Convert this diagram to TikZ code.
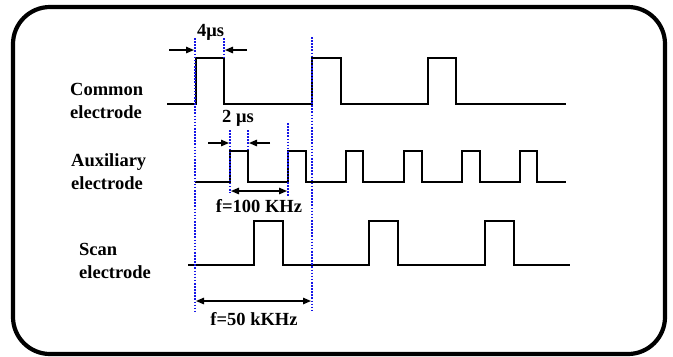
\documentclass[tikz,border=0pt]{standalone}
\usepackage{fontspec}
\setmainfont{Liberation Serif}
\usetikzlibrary{arrows.meta}
\definecolor{guideblue}{RGB}{20,20,230}
\begin{document}
\begin{tikzpicture}[x=1bp,y=-1bp,
  wave/.style={line width=2.2bp, line join=miter},
  guide/.style={guideblue, line width=2bp, dash pattern=on 1.6bp off 1.5bp},
  dimarrow/.style={line width=1.4bp, -{Triangle[length=8bp,width=6.5bp]}},
  dimboth/.style={line width=1.4bp, {Triangle[length=8bp,width=6.5bp]}-{Triangle[length=8bp,width=6.5bp]}},
  lbl/.style={font=\fontsize{18.5bp}{22bp}\selectfont\bfseries, inner sep=0pt, anchor=base west},
  dimlbl/.style={font=\fontsize{18.5bp}{22bp}\selectfont\bfseries, inner sep=0pt, anchor=base},
  frame/.style={line width=4.2bp, rounded corners=37bp}]

\useasboundingbox (0,0) rectangle (673,356);
\draw[frame] (13,7) rectangle (665,354);

% signal labels
\node[lbl] (c1) at (70,95) {Common};
\node[lbl] (c2) at (70,118) {electrode};
\node[lbl] (a1) at (71,166) {Auxiliary};
\node[lbl] (a2) at (71,189) {electrode};
\node[lbl] (s1) at (79,255) {Scan};
\node[lbl] (s2) at (79,278) {electrode};

% waveforms
\draw[wave] (167,104) -- (196,104) -- (196,58) -- (224,58) -- (224,104)
  -- (312,104) -- (312,58) -- (341,58) -- (341,104)
  -- (428,104) -- (428,58) -- (456,58) -- (456,104) -- (566,104);
\draw[wave] (195,182) -- (230,182) -- (230,151) -- (248,151) -- (248,182)
  -- (288,182) -- (288,151) -- (306,151) -- (306,182)
  -- (346,182) -- (346,151) -- (363,151) -- (363,182)
  -- (404,182) -- (404,151) -- (422,151) -- (422,182)
  -- (462,182) -- (462,151) -- (480,151) -- (480,182)
  -- (520,182) -- (520,151) -- (537,151) -- (537,182) -- (566,182);
\draw[wave] (188,265) -- (254,265) -- (254,221) -- (283,221) -- (283,265)
  -- (369,265) -- (369,221) -- (398,221) -- (398,265)
  -- (485,265) -- (485,221) -- (514,221) -- (514,265) -- (570,265);

% guides
\draw[guide] (195,38) -- (195,312);
\draw[guide] (224,38) -- (224,58);
\draw[guide] (312,37) -- (312,311);
\draw[guide] (230,130) -- (230,193);
\draw[guide] (248,130) -- (248,151);
\draw[guide] (288,123) -- (288,197);

% dimension coordinates
\coordinate (p4a) at (169,50);
\coordinate (p4b) at (194,50);
\coordinate (p4c) at (247,50);
\coordinate (p4d) at (225,50);
\coordinate (p2a) at (208,143);
\coordinate (p2b) at (229,143);
\coordinate (p2c) at (270,143);
\coordinate (p2d) at (249,143);
\coordinate (f1a) at (231,191);
\coordinate (f1b) at (287,191);
\coordinate (f5a) at (196,301);
\coordinate (f5b) at (311,301);

\draw[dimarrow] (p4a) -- (p4b);
\draw[dimarrow] (p4c) -- (p4d);
\draw[dimarrow] (p2a) -- (p2b);
\draw[dimarrow] (p2c) -- (p2d);
\draw[dimboth] (f1a) -- (f1b);
\draw[dimboth] (f5a) -- (f5b);

\node[dimlbl] (t4) at (210.5,36) {4μs};
\node[dimlbl] (t2) at (238,122) {2 μs};
\node[dimlbl] (t100) at (259,212) {f=100 KHz};
\node[dimlbl] (t50) at (254,325) {f=50 kKHz};
\end{tikzpicture}
\end{document}
